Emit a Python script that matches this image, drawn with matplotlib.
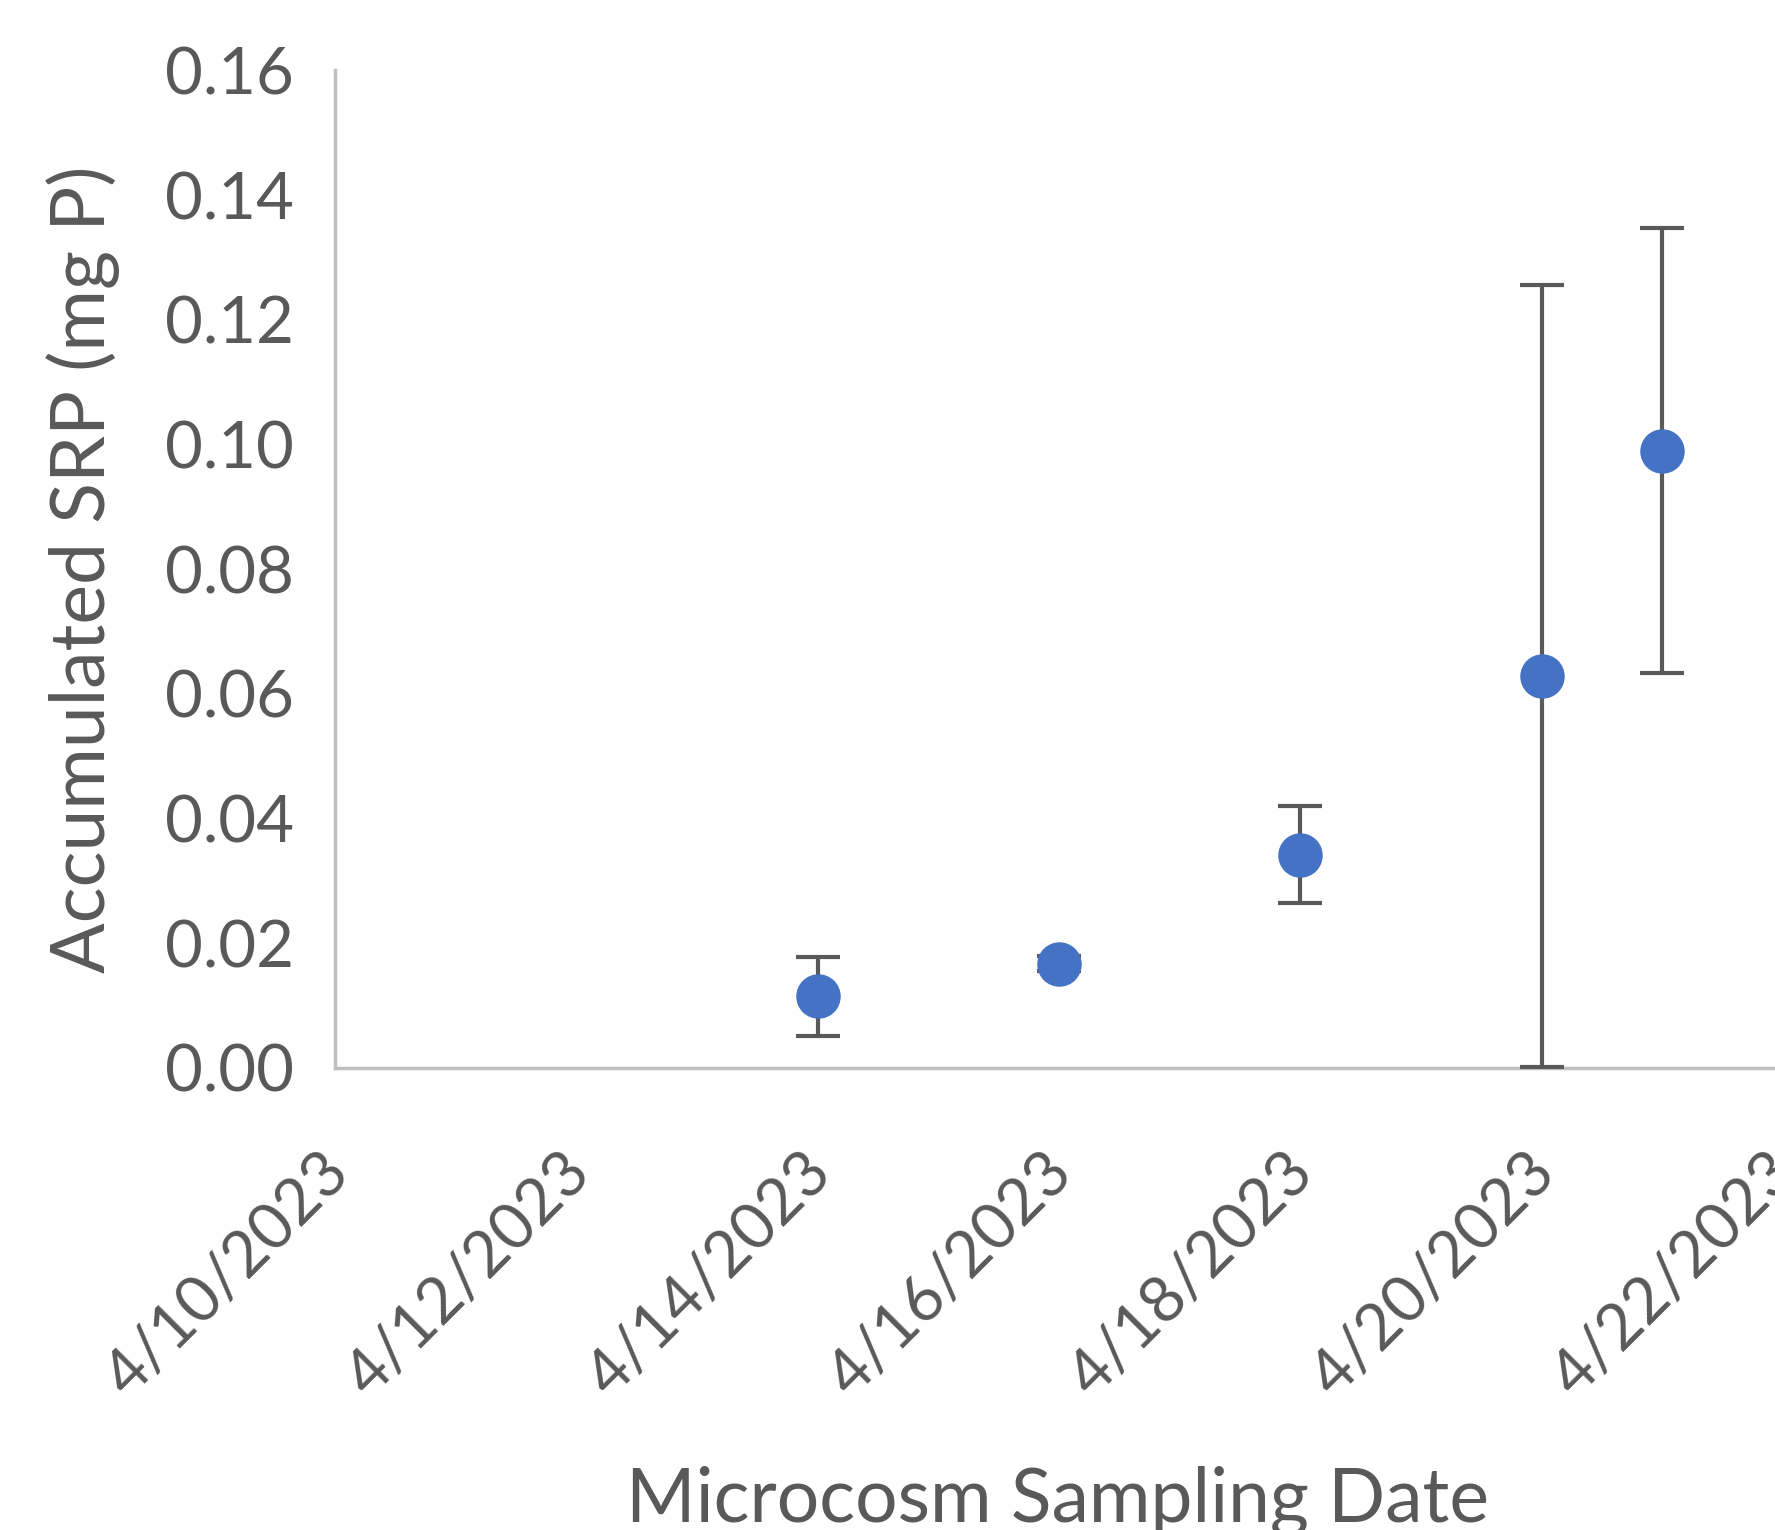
import matplotlib
matplotlib.use('Agg')
import matplotlib.pyplot as plt
import matplotlib.transforms as mtransforms
from datetime import datetime

# sampling dates and accumulated SRP (mg P) with error bars
dates = ['2023-04-14', '2023-04-16', '2023-04-18', '2023-04-20', '2023-04-21']
srp = [0.0115, 0.0167, 0.0342, 0.0628, 0.099]
err = [0.0063, 0.0012, 0.0078, 0.0627, 0.0357]
tick_dates = ['2023-04-10', '2023-04-12', '2023-04-14', '2023-04-16',
              '2023-04-18', '2023-04-20', '2023-04-22']

x = [datetime.strptime(d, '%Y-%m-%d') for d in dates]
xt = [datetime.strptime(d, '%Y-%m-%d') for d in tick_dates]

plt.rcParams['font.family'] = ['Lato', 'DejaVu Sans']
txt = '#595959'

fig = plt.figure(figsize=(17.75, 15.3), dpi=100)
ax = fig.add_axes([0.189, 0.302, 1.0045 - 0.189, 0.652])

ax.errorbar(x, srp, yerr=err, fmt='o', color='#4472C4', markersize=31,
            ecolor='#595959', elinewidth=3, capsize=16, capthick=3, zorder=3)

ax.set_xlim(xt[0], xt[-1])
ax.set_ylim(0, 0.16)
ax.set_yticks([i * 0.02 for i in range(9)])
ax.yaxis.set_major_formatter(matplotlib.ticker.FormatStrFormatter('%.2f'))
ax.set_xticks(xt)
ax.set_xticklabels([d.strftime('%-m/%-d/%Y') for d in xt])

for s in ['top', 'right']:
    ax.spines[s].set_visible(False)
for s in ['left', 'bottom']:
    ax.spines[s].set_color('#BFBFBF')
    ax.spines[s].set_linewidth(2.5)

ax.tick_params(axis='y', length=0, labelcolor=txt, labelsize=47, pad=30)
ax.tick_params(axis='x', length=0, labelcolor=txt, labelsize=46, pad=54)
shift = mtransforms.ScaledTranslation(-0.17, 0, fig.dpi_scale_trans)
for lab in ax.get_xticklabels():
    lab.set_rotation(45)
    lab.set_ha('right')
    lab.set_rotation_mode('anchor')
    lab.set_transform(lab.get_transform() + shift)

ax.set_ylabel('Accumulated SRP (mg P)', fontsize=54, color=txt)
ax.yaxis.set_label_coords(-0.149, 0.5)
ax.set_xlabel('Microcosm Sampling Date', fontsize=54, color=txt, va='top')
ax.xaxis.set_label_coords(0.499, -0.399)

fig.savefig('out.png', dpi=100)
